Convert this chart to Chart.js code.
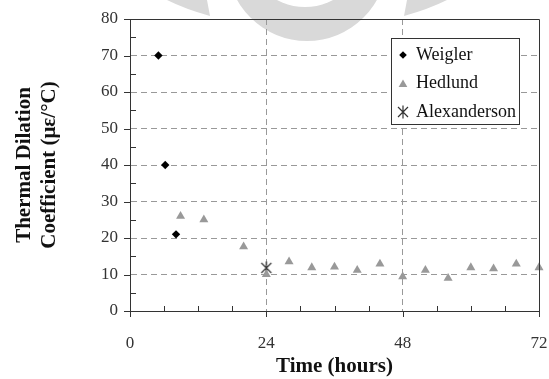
<!DOCTYPE html>
<html>
<head>
<meta charset="utf-8">
<script src="https://cdn.jsdelivr.net/npm/chart.js@4/dist/chart.umd.min.js"></script>
<style>
    html, body { margin: 0; padding: 0; background: #fff; }
    #wrap { width: 549px; height: 379px; }
</style>
</head>
<body>
<div id="wrap"><canvas id="dilationChart"></canvas></div>
<script>
// data
const weiglerHours = [5, 6.2, 8.1];
const weiglerValues = [70, 40, 21];
const hedlundHours = [8.9, 13, 20, 24, 28, 32, 36, 40, 44, 48, 52, 56, 60, 64, 68, 72];
const hedlundValues = [26, 25, 17.6, 10, 13.5, 11.9, 12.1, 11.2, 12.9, 9.4, 11.2, 9, 11.9, 11.6, 12.9, 11.9];
const alexandersonHours = [24];
const alexandersonValues = [11.8];
const xTickLabels = [0, 24, 48, 72];
const seriesNames = ["Weigler", "Hedlund", "Alexanderson"];

const SERIF = "'Liberation Serif', 'Times New Roman', serif";
const AXIS_COLOR = "#333";
const GRID_COLOR = "#999";

function toPoints(xs, ys) {
    return xs.map(function(x, i) { return {x: x, y: ys[i]}; });
}

// asterisk style marker (X with a vertical stroke) like the excel one
function makeStarMarker() {
    const c = document.createElement("canvas");
    c.width = 14;
    c.height = 14;
    const g = c.getContext("2d");
    g.strokeStyle = "#333";
    g.lineWidth = 1.2;
    g.beginPath();
    g.moveTo(2, 2); g.lineTo(12, 12);
    g.moveTo(12, 2); g.lineTo(2, 12);
    g.moveTo(7, 0.5); g.lineTo(7, 13.5);
    g.stroke();
    return c;
}
const starMarker = makeStarMarker();

function drawDiamond(ctx, x, y, r) {
    ctx.beginPath();
    ctx.moveTo(x, y - r);
    ctx.lineTo(x + r, y);
    ctx.lineTo(x, y + r);
    ctx.lineTo(x - r, y);
    ctx.closePath();
    ctx.fillStyle = "#000";
    ctx.fill();
}

function drawTriangle(ctx, x, y, r) {
    ctx.beginPath();
    ctx.moveTo(x, y - r);
    ctx.lineTo(x + r * 0.87, y + r * 0.5);
    ctx.lineTo(x - r * 0.87, y + r * 0.5);
    ctx.closePath();
    ctx.fillStyle = "#999";
    ctx.fill();
}

// faint logo watermark sitting behind the top of the plot
const watermarkPlugin = {
    id: "watermark",
    beforeDraw: function(chart) {
        const ctx = chart.ctx;
        ctx.save();
        ctx.fillStyle = "#d9d9d9";
        // the ring (only its bottom shows)
        ctx.beginPath();
        ctx.arc(307, -39, 80, 0, Math.PI);
        ctx.fill();
        ctx.fillStyle = "#fff";
        ctx.beginPath();
        ctx.arc(305, -52.5, 59.5, 0, Math.PI);
        ctx.fill();
        // the two side wedges
        ctx.fillStyle = "#d9d9d9";
        ctx.beginPath();
        ctx.moveTo(167, 0);
        ctx.lineTo(207, 0);
        ctx.lineTo(210, 16);
        ctx.quadraticCurveTo(185, 9, 167, 0);
        ctx.closePath();
        ctx.fill();
        ctx.beginPath();
        ctx.moveTo(447, 0);
        ctx.lineTo(407, 0);
        ctx.lineTo(404, 16);
        ctx.quadraticCurveTo(429, 9, 447, 0);
        ctx.closePath();
        ctx.fill();
        ctx.restore();
    }
};

// box around plot, tick marks and the boxed legend
const framePlugin = {
    id: "frame",
    afterDraw: function(chart) {
        const ctx = chart.ctx;
        const area = chart.chartArea;
        const xs = chart.scales.x;
        const ys = chart.scales.y;
        ctx.save();
        ctx.strokeStyle = AXIS_COLOR;
        ctx.lineWidth = 1;
        ctx.beginPath();
        ctx.moveTo(area.left, area.top + 0.5);
        ctx.lineTo(area.right + 0.5, area.top + 0.5);
        ctx.lineTo(area.right + 0.5, area.bottom);
        ctx.stroke();

        ctx.beginPath();
        for (let v = 0; v <= 72; v += 6) {
            const px = Math.round(xs.getPixelForValue(v)) + 0.5;
            if (v % 24 === 0) {
                ctx.moveTo(px, area.bottom);
                ctx.lineTo(px, area.bottom + 6);
            } else {
                ctx.moveTo(px, area.bottom);
                ctx.lineTo(px, area.bottom - 5);
            }
        }
        for (let v = 0; v <= 80; v += 5) {
            const py = Math.round(ys.getPixelForValue(v)) + 0.5;
            if (v % 10 === 0) {
                ctx.moveTo(area.left - 6, py);
                ctx.lineTo(area.left, py);
            } else {
                ctx.moveTo(area.left, py);
                ctx.lineTo(area.left + 6, py);
            }
        }
        ctx.stroke();

        // legend
        const bx = 391.5, by = 38.5, bw = 128, bh = 86;
        ctx.fillStyle = "#fff";
        ctx.fillRect(bx, by, bw, bh);
        ctx.strokeStyle = "#333";
        ctx.strokeRect(bx, by, bw, bh);
        const rowY = [55, 83.5, 112];
        const markX = 403;
        drawDiamond(ctx, markX, rowY[0], 3.8);
        drawTriangle(ctx, markX, rowY[1] + 1, 5);
        ctx.drawImage(starMarker, markX - 7, rowY[2] - 7);
        ctx.fillStyle = "#111";
        ctx.font = "18px " + SERIF;
        ctx.textBaseline = "middle";
        ctx.textAlign = "left";
        for (let i = 0; i < seriesNames.length; i++) {
            ctx.fillText(seriesNames[i], 416, rowY[i]);
        }
        ctx.restore();
    }
};

const config = {
    type: "scatter",
    data: {
        datasets: [{
            label: seriesNames[0],
            data: toPoints(weiglerHours, weiglerValues),
            pointStyle: "rectRot",
            pointRadius: 4.2,
            pointHoverRadius: 4.2,
            backgroundColor: "#000",
            borderColor: "#000",
            borderWidth: 0,
            clip: false
        }, {
            label: seriesNames[1],
            data: toPoints(hedlundHours, hedlundValues),
            pointStyle: "triangle",
            pointRadius: 5.2,
            pointHoverRadius: 5.2,
            backgroundColor: "#999",
            borderColor: "#999",
            borderWidth: 0,
            clip: false
        }, {
            label: seriesNames[2],
            data: toPoints(alexandersonHours, alexandersonValues),
            pointStyle: starMarker,
            clip: false
        }]
    },
    options: {
        responsive: true,
        maintainAspectRatio: false,
        animation: false,
        layout: {
            padding: {top: 19, right: 10, left: 0, bottom: 0}
        },
        plugins: {
            legend: { display: false },
            tooltip: { enabled: false }
        },
        scales: {
            x: {
                type: "linear",
                min: 0,
                max: 72,
                afterFit: function(scale) {
                    scale.height = 68;
                    // the big tick padding would otherwise eat into the right side
                    scale.paddingLeft = 0;
                    scale.paddingRight = 0;
                },
                ticks: {
                    stepSize: 6,
                    autoSkip: false,
                    maxRotation: 0,
                    padding: 22,
                    color: AXIS_COLOR,
                    font: {family: SERIF, size: 17},
                    callback: function(v) {
                        return xTickLabels.indexOf(v) >= 0 ? String(v) : "";
                    }
                },
                grid: {
                    drawTicks: false,
                    color: function(c) {
                        const v = c.tick ? c.tick.value : null;
                        return (v === 24 || v === 48) ? GRID_COLOR : "rgba(0,0,0,0)";
                    }
                },
                border: { color: AXIS_COLOR, width: 1, dash: [6, 4] },
                title: {
                    display: true,
                    text: "Time (hours)",
                    color: "#111",
                    font: {family: SERIF, size: 21, weight: "bold"},
                    padding: {top: 0, bottom: 0}
                }
            },
            y: {
                min: 0,
                max: 80,
                afterFit: function(scale) {
                    scale.width = 130;
                    scale.paddingTop = 0;
                    scale.paddingBottom = 0;
                },
                ticks: {
                    stepSize: 10,
                    padding: 12,
                    color: AXIS_COLOR,
                    font: {family: SERIF, size: 17}
                },
                grid: {
                    drawTicks: false,
                    color: function(c) {
                        const v = c.tick ? c.tick.value : null;
                        return (v === 0 || v === 80) ? "rgba(0,0,0,0)" : GRID_COLOR;
                    }
                },
                border: { color: AXIS_COLOR, width: 1, dash: [6, 4] },
                title: {
                    display: true,
                    text: ["Thermal Dilation", "Coefficient (\u03bc\u03b5/\u00b0C)"],
                    color: "#111",
                    font: {family: SERIF, size: 21, weight: "bold", lineHeight: 1.2},
                    padding: {top: 12, bottom: 0}
                }
            }
        }
    },
    plugins: [watermarkPlugin, framePlugin]
};

new Chart(document.getElementById("dilationChart"), config);
</script>
</body>
</html>
